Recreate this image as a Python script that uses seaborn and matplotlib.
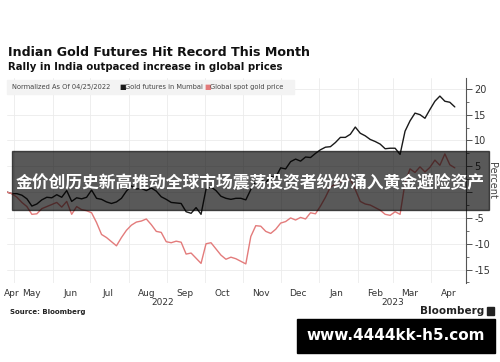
import numpy as np
import pandas as pd
import matplotlib
matplotlib.use("Agg")
import matplotlib.pyplot as plt
import matplotlib.dates as mdates
from matplotlib.patches import Rectangle
from matplotlib.ticker import MultipleLocator, NullFormatter
import seaborn as sns

# time axis: one sample every 4 days from the normalisation date
dates = pd.date_range("2022-04-25", periods=91, freq="4D")

# % change since 04/25/2022
mumbai = [0.0, -0.3, -0.3, -0.6, -1.3, -2.7, -2.3, -1.5, -1.0, -1.1,
          -0.5, -1.0, 0.3, -1.8, -1.1, -1.3, -1.0, 0.4, -1.2, -1.4,
          -1.9, -2.2, -1.9, -1.2, 0.2, 1.2, 0.6, 0.7, 0.3, 0.8,
          0.2, -0.9, -1.4, -2.0, -2.1, -2.2, -3.8, -4.1, -3.0, -4.3,
          0.6, 1.0, 0.3, -0.8, -1.2, -1.4, -1.2, -1.2, -1.5, 0.5,
          2.0, 2.4, 1.8, 3.0, 2.9, 4.7, 4.5, 5.9, 6.4, 6.0,
          6.8, 6.7, 7.5, 8.2, 8.7, 8.8, 9.6, 10.6, 10.6, 11.2,
          12.6, 11.4, 10.9, 10.2, 9.8, 9.3, 8.4, 8.5, 8.5, 7.3,
          11.8, 13.8, 15.3, 15.0, 14.3, 16.0, 17.6, 18.6, 17.6, 17.4, 16.5]

spot = [0.0, -0.3, -1.0, -2.0, -2.8, -4.3, -4.2, -3.2, -2.8, -2.4,
        -2.0, -2.9, -1.8, -4.3, -2.8, -3.4, -3.6, -4.0, -5.9, -8.2,
        -8.8, -9.6, -10.4, -8.8, -7.4, -6.4, -5.8, -5.6, -5.2, -6.3,
        -7.6, -7.8, -9.6, -9.8, -9.5, -9.7, -12.0, -11.8, -12.8, -13.8,
        -10.0, -9.8, -11.0, -12.2, -13.0, -12.6, -12.9, -13.4, -13.9, -8.6,
        -6.5, -6.6, -7.6, -8.0, -7.2, -6.0, -5.7, -5.0, -5.4, -4.9,
        -5.2, -4.0, -4.2, -2.7, -1.0, 1.0, 1.5, 2.0, 2.2, 2.5,
        0.5, -1.8, -2.3, -2.5, -3.0, -3.5, -4.3, -4.5, -3.8, -4.3,
        1.8, 4.5, 3.8, 4.9, 3.9, 4.8, 6.2, 5.2, 7.4, 5.3, 4.7]

month_pos = ["2022-04-29", "2022-05-15", "2022-06-15", "2022-07-15", "2022-08-15",
             "2022-09-15", "2022-10-15", "2022-11-15", "2022-12-15", "2023-01-15",
             "2023-02-15", "2023-03-15", "2023-04-15"]
month_names = ["Apr", "May", "Jun", "Jul", "Aug", "Sep", "Oct", "Nov", "Dec",
               "Jan", "Feb", "Mar", "Apr"]
years = ["2022", "2023"]
y_ticks = [-15, -10, -5, 0, 5, 10, 15, 20]
# the 0 label sits under the banner in the reference
y_labels = ["-15", "-10", "-5", "", "5", "10", "15", "20"]

series_names = ["Gold futures in Mumbai", "Global spot gold price"]
colors = {"Gold futures in Mumbai": "#1a1a1a", "Global spot gold price": "#e37b7b"}

df = pd.DataFrame({"date": dates, series_names[0]: mumbai, series_names[1]: spot})
df = df.melt("date", var_name="series", value_name="pct")

sns.set_style("white")
plt.rcParams["font.family"] = ["DejaVu Sans", "Noto Sans CJK SC"]

W, H = 500, 362
fig = plt.figure(figsize=(W / 100, H / 100), dpi=100)
ax = fig.add_axes([7 / W, 1 - 283 / H, (466 - 7) / W, (283 - 78) / H])

sns.lineplot(data=df, x="date", y="pct", hue="series", palette=colors,
             linewidth=1.0, legend=False, ax=ax)

xmin, xmax = pd.Timestamp("2022-04-25"), pd.Timestamp("2023-04-29")
ax.set_xlim(xmin, xmax)
ax.set_ylim(-17.6, 22.1)
ax.set_xlabel("")
ax.set_ylabel("")

# month grid lines at month starts, labels mid-month
ax.xaxis.set_major_locator(mdates.MonthLocator())
ax.xaxis.set_major_formatter(NullFormatter())
ax.set_xticks(pd.to_datetime(month_pos), minor=True)
ax.set_xticklabels(month_names, minor=True)
ax.tick_params(axis="x", which="both", length=0, labelsize=6.5,
               labelcolor="#333333", pad=4)

ax.yaxis.tick_right()
ax.set_yticks(y_ticks)
ax.set_yticklabels(y_labels)
ax.yaxis.set_minor_locator(MultipleLocator(2.5))
ax.tick_params(axis="y", which="major", direction="out", length=4, width=0.7,
               color="#555555", labelsize=7, labelcolor="#333333", pad=2)
ax.tick_params(axis="y", which="minor", direction="out", length=2, width=0.6,
               color="#555555")

ax.grid(True, which="major", color="#ebebeb", linewidth=0.6)
for s in ["left", "top", "bottom"]:
    ax.spines[s].set_visible(False)
ax.spines["right"].set_color("#555555")
ax.spines["right"].set_linewidth(0.8)

# year labels centred on the span of each year
for yr in years:
    lo = max(xmin, pd.Timestamp(f"{yr}-01-01"))
    hi = min(xmax, pd.Timestamp(f"{yr}-12-31"))
    mid = lo + (hi - lo) / 2
    ax.annotate(yr, xy=(mdates.date2num(mid), 0), xycoords=ax.get_xaxis_transform(),
                xytext=(0, -10.5), textcoords="offset points", ha="center", va="top",
                fontsize=6.5, color="#333333")

fig.text(492 / W, 1 - 180 / H, "Percent", rotation=270, ha="center", va="center",
         fontsize=7, color="#444444")

# titles
fig.text(8 / W, 1 - 53 / H, "Indian Gold Futures Hit Record This Month",
         fontsize=9.1, fontweight="bold", color="#111111", va="center")
fig.text(8 / W, 1 - 67 / H, "Rally in India outpaced increase in global prices",
         fontsize=7.3, fontweight="bold", color="#111111", va="center")

# legend band
fig.add_artist(Rectangle((7 / W, 1 - 94 / H), (294 - 7) / W, 14 / H,
                         transform=fig.transFigure, color="#f3f3f3", zorder=3))
fig.text(12 / W, 1 - 87 / H, "Normalized As Of 04/25/2022", fontsize=4.8,
         color="#444444", va="center", zorder=4)
fig.text(119 / W, 1 - 87 / H, "\u25a0", fontsize=5, color=colors[series_names[0]],
         va="center", zorder=4)
fig.text(125 / W, 1 - 87 / H, series_names[0], fontsize=4.8, color="#444444",
         va="center", zorder=4)
fig.text(204 / W, 1 - 87 / H, "\u25a0", fontsize=5, color=colors[series_names[1]],
         va="center", zorder=4)
fig.text(210 / W, 1 - 87 / H, series_names[1], fontsize=4.8, color="#444444",
         va="center", zorder=4)

# source / logo
fig.text(10 / W, 1 - 312 / H, "Source: Bloomberg", fontsize=5, fontweight="bold",
         color="#222222", va="center")
fig.text(484 / W, 1 - 311 / H, "Bloomberg", fontsize=7.5, fontweight="bold",
         color="#222222", va="center", ha="right")
fig.add_artist(Rectangle((487 / W, 1 - 315 / H), 7 / W, 8 / H,
                         transform=fig.transFigure, color="#222222", zorder=3))

# overlay banner
fig.add_artist(Rectangle((12 / W, 1 - 210 / H), 477 / W, 59 / H,
                         transform=fig.transFigure, color="black", alpha=0.65,
                         zorder=10))
fig.text(250 / W, 1 - 183 / H, "金价创历史新高推动全球市场震荡投资者纷纷涌入黄金避险资产",
         family=["Noto Sans CJK SC", "DejaVu Sans"], fontweight="bold",
         fontsize=12.1, color="white", ha="center", va="center", zorder=11)

# url box
fig.add_artist(Rectangle((297 / W, 1 - 353 / H), 198 / W, 34 / H,
                         transform=fig.transFigure, color="black", zorder=10))
fig.text(396 / W, 1 - 336 / H, "www.4444kk-h5.com", fontsize=11, fontweight="bold",
         color="white", ha="center", va="center", zorder=11)

fig.savefig("out.png", dpi=100, facecolor="white")
